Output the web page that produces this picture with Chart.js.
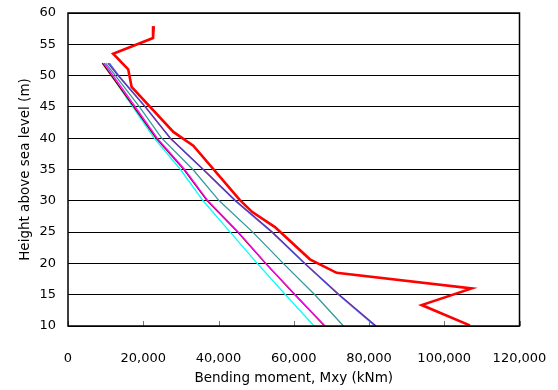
<!DOCTYPE html>
<html>
<head>
<meta charset="utf-8">
<script src="https://cdn.jsdelivr.net/npm/chart.js@4/dist/chart.umd.min.js"></script>
<style>
  html, body { margin: 0; padding: 0; background: #fff; }
  #wrap { width: 558px; height: 390px; }
</style>
</head>
<body>
<div id="wrap"><canvas id="chart" width="558" height="390"></canvas></div>
<script>
// heights (m) shared by the smooth curves
const heights = [52, 50, 45, 40, 35, 30, 25, 20, 15, 10];
const cyanX = [9300, 11600, 17200, 22900, 29900, 35900, 43100, 50300, 57800, 65400];
const magentaX = [9600, 12000, 17900, 23700, 31000, 37200, 45300, 52600, 60400, 68300];
const maroonX = [9100, 11500, 17500, 23400, 30800, 37000, 45100, 52500, 60300, 68200];
const tealX = [10000, 12600, 19000, 24900, 33200, 40200, 49100, 57200, 65600, 73200];
const purpleX = [10600, 13300, 20500, 27200, 36000, 44600, 54300, 63000, 72100, 81900];
const blueX = [11000, 13500, 20600, 27200, 35900, 44400, 54100, 62800, 71900, 81600];

// red curve has its own heights
const redH = [57.9, 56.0, 53.5, 51.0, 48.2, 41.0, 38.8, 30.1, 28.2, 25.8, 20.65, 18.5, 16.0, 13.35, 10.1];
const redX = [22800, 22600, 12000, 16000, 16900, 28000, 33300, 45700, 49000, 55000, 64300, 71400, 107300, 94000, 106800];

const xTicks = [0, 20000, 40000, 60000, 80000, 100000, 120000];

const toPts = (xs, hs) => xs.map((x, i) => ({ x: x, y: hs[i] }));

const series = [
  { label: 'red', data: toPts(redX, redH), color: '#ff0000', w: 2.6 },
  { label: 'purple', data: toPts(purpleX, heights), color: '#7030a0', w: 1.3 },
  { label: 'blue', data: toPts(blueX, heights), color: '#3366ff', w: 1.3 },
  { label: 'teal', data: toPts(tealX, heights), color: '#339999', w: 1.3 },
  { label: 'magenta', data: toPts(magentaX, heights), color: '#ff00ff', w: 1.3 },
  { label: 'maroon', data: toPts(maroonX, heights), color: '#800000', w: 1.3 },
  { label: 'cyan', data: toPts(cyanX, heights), color: '#00ffff', w: 1.3 }
];

// box around the plot + little inward tick marks on the x axis
const frame = {
  id: 'frame',
  afterDraw(chart) {
    const { ctx, chartArea: a, scales } = chart;
    ctx.save();
    ctx.strokeStyle = '#777';
    ctx.lineWidth = 1;
    xTicks.forEach((v) => {
      const px = Math.round(scales.x.getPixelForValue(v)) + 0.5;
      ctx.beginPath();
      ctx.moveTo(px, a.bottom);
      ctx.lineTo(px, a.bottom - 5);
      ctx.stroke();
    });
    ctx.strokeStyle = '#000';
    ctx.lineWidth = 1.5;
    ctx.strokeRect(a.left, a.top, a.right - a.left, a.bottom - a.top);
    ctx.restore();
  }
};

Chart.defaults.font.family = "'DejaVu Sans', sans-serif";
Chart.defaults.font.size = 13;
Chart.defaults.color = '#000';

new Chart(document.getElementById('chart').getContext('2d'), {
  type: 'scatter',
  data: {
    datasets: series.map((s) => ({
      label: s.label,
      data: s.data,
      showLine: true,
      borderColor: s.color,
      backgroundColor: s.color,
      borderWidth: s.w,
      pointRadius: 0,
      tension: 0
    }))
  },
  options: {
    responsive: false,
    animation: false,
    layout: { padding: { top: 13, right: 38.5, left: 0, bottom: 0 } },
    plugins: {
      legend: { display: false },
      tooltip: { enabled: false }
    },
    scales: {
      x: {
        type: 'linear',
        min: 0,
        max: 120000,
        afterBuildTicks: (scale) => { scale.ticks = xTicks.map((v) => ({ value: v })); },
        afterFit: (scale) => {
          scale.height = 64;
          scale.paddingLeft = 0;
          scale.paddingRight = 0;
        },
        grid: { display: false },
        border: { display: false },
        ticks: {
          padding: 17,
          maxRotation: 0,
          callback: (v) => v.toLocaleString('en-US')
        },
        title: {
          display: true,
          text: 'Bending moment, Mxy (kNm)',
          font: { size: 13.5 },
          padding: { top: 0, bottom: 3 }
        }
      },
      y: {
        type: 'linear',
        min: 10,
        max: 60,
        afterFit: (scale) => {
          scale.width = 68;
          scale.paddingTop = 0;
          scale.paddingBottom = 0;
        },
        grid: { color: '#000', lineWidth: 1, drawTicks: false },
        border: { display: false },
        ticks: { stepSize: 5, padding: 12 },
        title: {
          display: true,
          text: 'Height above sea level (m)',
          font: { size: 13.5 },
          padding: { top: 17, bottom: 0 }
        }
      }
    }
  },
  plugins: [frame]
});
</script>
</body>
</html>
